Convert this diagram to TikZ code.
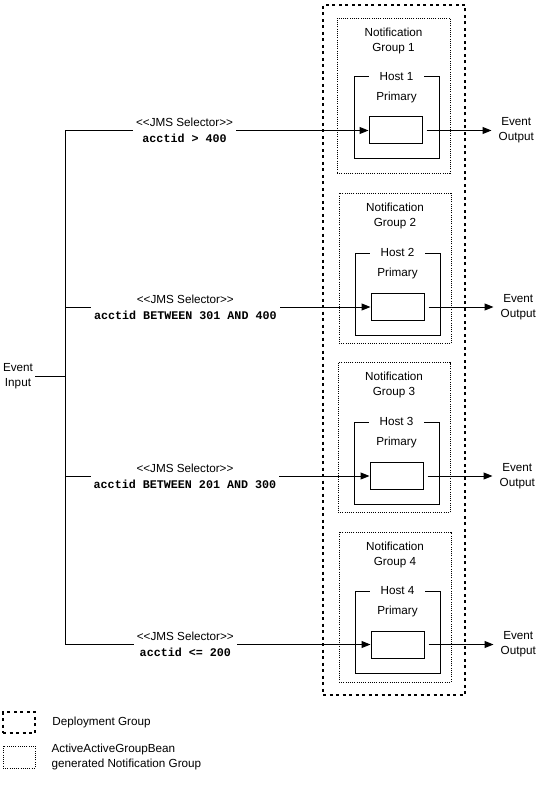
\documentclass[tikz,border=0pt]{standalone}
\usepackage{fontspec}
\setmainfont{Liberation Sans}
\newfontfamily\monoFont{Liberation Mono}
\usetikzlibrary{arrows.meta, positioning}
\newcommand\gWidth{112pt}
\newcommand\gHeigh{150pt}
\newcommand\hWidth{85pt}
\newcommand\hHeigh{82pt}
\newcommand\rWidth{53pt}
\newcommand\rHeigh{27pt}
\newcommand\dFont{\fontsize{11.7}{15}\selectfont}
\newcommand\mFont{\monoFont\bfseries\fontsize{11.7}{15}\selectfont}
\tikzstyle{deploy} = [rectangle, draw=black, line width=2.5pt, dash pattern=on 3pt off 3.5pt]
\tikzstyle{grp} = [rectangle, minimum width=\gWidth, minimum height=\gHeigh, draw=black, line width=0.8pt, dash pattern=on 1pt off 1.2pt]
\tikzstyle{host} = [rectangle, minimum width=\hWidth, minimum height=\hHeigh, draw=black, line width=1pt]
\tikzstyle{proc} = [rectangle, minimum width=\rWidth, minimum height=\rHeigh, draw=black, line width=1pt]
\tikzstyle{txt} = [align=center, font=\dFont, inner sep=2pt]
\tikzstyle{hostlbl} = [fill=white, inner xsep=11pt, inner ysep=1pt, font=\dFont]
\tikzstyle{sel} = [fill=white, align=center, font=\dFont, inner xsep=3pt, inner ysep=1pt, pos=0.394]
\tikzstyle{line} = [line width=1pt]
\tikzstyle{arrow} = [line width=1pt, ->, >={Triangle[length=9pt,width=7pt]}]

\begin{document}
\begin{tikzpicture} [x=1pt, y=-1pt, node distance=10pt]
\useasboundingbox (0,0) rectangle (535,786);
\node (dep) [deploy, minimum width=142pt, minimum height=690pt] at (394,350) {};

\node (grp1) [grp, minimum width=113pt, minimum height=155pt] at (393.5,95.5) {};
\node (grp2) [grp] at (395,268.5) {};
\node (grp3) [grp] at (394,437.5) {};
\node (grp4) [grp] at (395,607) {};
\node (ng1) [txt, below=8pt of grp1.north] {Notification\\Group 1};
\node (ng2) [txt, below=8pt of grp2.north] {Notification\\Group 2};
\node (ng3) [txt, below=8pt of grp3.north] {Notification\\Group 3};
\node (ng4) [txt, below=8pt of grp4.north] {Notification\\Group 4};

\node (host1) [host] at (396.5,118) {};
\node (host2) [host] at (397.5,294) {};
\node (host3) [host] at (396.5,463) {};
\node (host4) [host] at (397.5,632) {};
\node [hostlbl] at (host1.north) {Host 1};
\node [hostlbl] at (host2.north) {Host 2};
\node [hostlbl] at (host3.north) {Host 3};
\node [hostlbl] at (host4.north) {Host 4};
\node (pr1) [txt, below=13pt of host1.north] {Primary};
\node (pr2) [txt, below=13pt of host2.north] {Primary};
\node (pr3) [txt, below=13pt of host3.north] {Primary};
\node (pr4) [txt, below=13pt of host4.north] {Primary};

\node (r1) [proc] at (395.5,130.5) {};
\node (r2) [proc] at (397.5,307) {};
\node (r3) [proc] at (396.5,476) {};
\node (r4) [proc] at (397.5,644.5) {};
\node (out1) [txt, right=74pt of r1] {Event\\Output};
\node (out2) [txt, right=74pt of r2] {Event\\Output};
\node (out3) [txt, right=74pt of r3] {Event\\Output};
\node (out4) [txt, right=74pt of r4] {Event\\Output};

\node (in) [txt] at (18,376.5) {Event\\Input};
\coordinate (bus) at (65,376.5);

\draw [line] (in) -- (bus);
\draw [line] (bus |- r1) -- (bus |- r4);
\draw [arrow] (bus |- r1) --node[sel]{<{}<JMS Selector>{}>\\[1pt]{\mFont acctid > 400}} (r1);
\draw [arrow] (bus |- r2) --node[sel]{<{}<JMS Selector>{}>\\[1pt]{\mFont acctid BETWEEN 301 AND 400}} (r2);
\draw [arrow] (bus |- r3) --node[sel]{<{}<JMS Selector>{}>\\[1pt]{\mFont acctid BETWEEN 201 AND 300}} (r3);
\draw [arrow] (bus |- r4) --node[sel]{<{}<JMS Selector>{}>\\[1pt]{\mFont acctid <= 200}} (r4);
\draw [arrow, shorten <=4pt, shorten >=5pt] (r1) -- (out1);
\draw [arrow, shorten <=4pt, shorten >=5pt] (r2) -- (out2);
\draw [arrow, shorten <=4pt, shorten >=5pt] (r3) -- (out3);
\draw [arrow, shorten <=4pt, shorten >=5pt] (r4) -- (out4);

\node (lgDep) [deploy, minimum width=32pt, minimum height=21pt] at (19,722.5) {};
\node (lgDepTxt) [txt, right=14pt of lgDep] {Deployment Group};
\node (lgGrp) [grp, minimum width=32pt, minimum height=22pt] at (19,757) {};
\node (lgGrpTxt) [txt, align=left, right=14pt of lgGrp] {ActiveActiveGroupBean\\generated Notification Group};
\end{tikzpicture}
\end{document}
